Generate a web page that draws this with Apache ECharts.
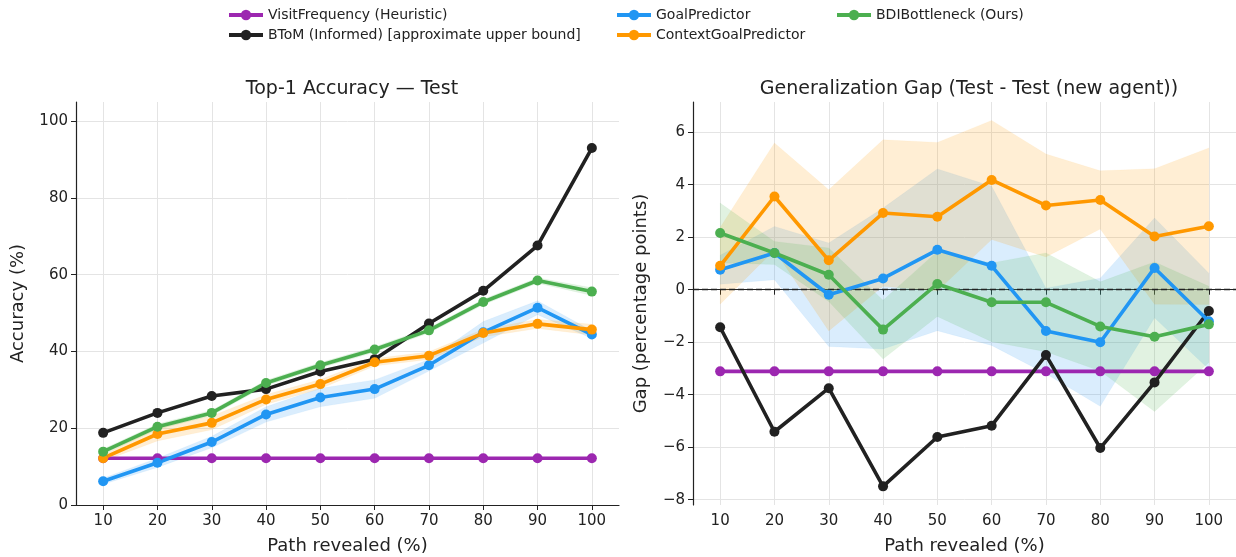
<!DOCTYPE html>
<html><head><meta charset="utf-8">
<script src="https://cdn.jsdelivr.net/npm/echarts@6/dist/echarts.min.js"></script>
<style>html,body{margin:0;padding:0;background:#fff}#c{width:1236px;height:557px}</style>
</head><body><div id="c"></div>
<script>
const xs = [10,20,30,40,50,60,70,80,90,100];
const names = ['VisitFrequency (Heuristic)','BToM (Informed) [approximate upper bound]','GoalPredictor','ContextGoalPredictor','BDIBottleneck (Ours)'];
const colors = ['#9c27b0','#212121','#2196f3','#ff9800','#4caf50'];
const yTicksAcc = [0,20,40,60,80,100];
const yTicksGap = [-8,-6,-4,-2,0,2,4,6];

// Top-1 Accuracy (Test)
const accVisit = [12.2,12.2,12.2,12.2,12.2,12.2,12.2,12.2,12.2,12.2];
const accBtom  = [18.8,24.0,28.4,30.2,34.8,38.0,47.3,55.8,67.6,93.0];
const accGoal  = [6.2,11.0,16.4,23.6,28.0,30.2,36.4,45.0,51.4,44.4];
const accGoalLo= [5.4,9.8,14.9,21.6,25.6,27.8,34.9,42.2,49.6,43.4];
const accGoalHi= [7.0,12.2,17.9,25.6,30.4,32.6,37.9,47.8,53.2,45.4];
const accCtx   = [12.2,18.5,21.4,27.5,31.5,37.2,38.9,44.8,47.2,45.7];
const accCtxLo = [11.4,16.7,19.6,26.2,30.3,36.2,37.9,43.8,46.0,44.3];
const accCtxHi = [13.0,20.3,23.2,28.8,32.7,38.2,39.9,45.8,48.4,47.1];
const accBdi   = [13.9,20.4,24.0,31.8,36.4,40.5,45.5,52.9,58.5,55.6];
const accBdiLo = [13.2,19.7,23.3,31.1,35.7,39.8,44.8,52.2,57.8,54.6];
const accBdiHi = [14.6,21.1,24.7,32.5,37.1,41.2,46.2,53.6,59.2,56.6];

// Generalization gap
const gapVisit = [-3.11,-3.11,-3.11,-3.11,-3.11,-3.11,-3.11,-3.11,-3.11,-3.11];
const gapBtom  = [-1.43,-5.41,-3.75,-7.49,-5.61,-5.18,-2.49,-6.03,-3.53,-0.81];
const gapGoal  = [0.76,1.40,-0.19,0.43,1.52,0.91,-1.57,-2.00,0.83,-1.20];
const gapGoalLo= [0.21,0.38,-2.16,-2.26,-1.56,-2.12,-3.20,-4.44,-1.07,-3.03];
const gapGoalHi= [1.31,2.41,1.78,3.11,4.60,3.94,0.06,0.44,2.73,0.63];
const gapCtx   = [0.91,3.55,1.12,2.92,2.78,4.18,3.21,3.42,2.03,2.42];
const gapCtxLo = [-0.55,1.51,-1.57,0.13,-0.05,1.91,1.25,2.31,-0.55,-0.56];
const gapCtxHi = [2.37,5.59,3.81,5.71,5.61,6.45,5.17,4.53,4.61,5.40];
const gapBdi   = [2.16,1.40,0.57,-1.52,0.22,-0.48,-0.48,-1.40,-1.79,-1.32];
const gapBdiLo = [1.02,0.96,-0.45,-2.64,-1.02,-1.98,-2.36,-3.10,-4.64,-2.77];
const gapBdiHi = [3.30,1.84,1.59,-0.40,1.46,1.02,1.40,0.30,1.06,0.13];

const FONT = 'DejaVu Sans';
const pairs = arr => xs.map((x,i)=>[x,arr[i]]);

function lineSeries(name, color, arr, gi){
  return {name, type:'line', xAxisIndex:gi, yAxisIndex:gi, data:pairs(arr),
    symbol:'circle', symbolSize:10, z:5,
    lineStyle:{color, width:3.6}, itemStyle:{color}, emphasis:{disabled:true}};
}
function band(color, lo, hi, gi){
  return {type:'custom', xAxisIndex:gi, yAxisIndex:gi, silent:true, z:1,
    data: xs.map((x,i)=>[x, lo[i], hi[i]]),
    encode:{x:0, y:[1,2]},
    renderItem: function(params, api){
      if (params.dataIndex !== 0) return null;
      const top = xs.map((x,i)=>api.coord([x, hi[i]]));
      const bot = xs.map((x,i)=>api.coord([x, lo[i]])).reverse();
      return {type:'polygon', shape:{points: top.concat(bot)},
        style:{fill:color, opacity:0.17, stroke:color, lineWidth:1, strokeOpacity:0.25}};
    }};
}
function xAxis(gi){
  return {type:'value', gridIndex:gi, min:5, max:105,
    name:'Path revealed (%)', nameLocation:'middle', nameGap:32,
    nameTextStyle:{fontFamily:FONT, fontSize:18, color:'#222'},
    axisLine:{lineStyle:{color:'#222', width:1.2}},
    axisTick:{customValues:xs, length:5, lineStyle:{color:'#222'}},
    axisLabel:{customValues:xs, fontFamily:FONT, fontSize:15, color:'#222', margin:9},
    splitLine:{show:true, lineStyle:{color:'#e4e4e4', width:1}}};
}
function yAxis(gi, min, max, ticks, name){
  return {type:'value', gridIndex:gi, min, max,
    name, nameLocation:'middle', nameGap: gi===0?49:43,
    nameTextStyle:{fontFamily:FONT, fontSize:18, color:'#222'},
    axisLine:{show:true, lineStyle:{color:'#222', width:1.2}},
    axisTick:{show:true, customValues:ticks, length:5, lineStyle:{color:'#222'}},
    axisLabel:{customValues:ticks, fontFamily:FONT, fontSize:15, color:'#222', margin:8,
      formatter: v => (v<0?'\u2212'+(-v):String(v))},
    splitLine:{show:true, lineStyle:{color:'#e4e4e4', width:1}}};
}

const series = [];
series.push(band(colors[2], accGoalLo, accGoalHi, 0));
series.push(band(colors[3], accCtxLo, accCtxHi, 0));
series.push(band(colors[4], accBdiLo, accBdiHi, 0));
series.push(lineSeries(names[0], colors[0], accVisit, 0));
series.push(lineSeries(names[1], colors[1], accBtom, 0));
series.push(lineSeries(names[2], colors[2], accGoal, 0));
series.push(lineSeries(names[3], colors[3], accCtx, 0));
series.push(lineSeries(names[4], colors[4], accBdi, 0));

series.push(band(colors[2], gapGoalLo, gapGoalHi, 1));
series.push(band(colors[3], gapCtxLo, gapCtxHi, 1));
series.push(band(colors[4], gapBdiLo, gapBdiHi, 1));
const visitGap = lineSeries(names[0], colors[0], gapVisit, 1);
visitGap.markLine = {silent:true, symbol:'none', label:{show:false},
  lineStyle:{color:'#222', type:[6,3], width:1.4}, data:[{yAxis:0}], z:3};
series.push(visitGap);
series.push(lineSeries(names[1], colors[1], gapBtom, 1));
series.push(lineSeries(names[2], colors[2], gapGoal, 1));
series.push(lineSeries(names[3], colors[3], gapCtx, 1));
series.push(lineSeries(names[4], colors[4], gapBdi, 1));

function legend(left, data){
  return {left, top:3, orient:'vertical', data, itemWidth:34, itemHeight:13, itemGap:6,
    lineStyle:{width:4}, itemStyle:{borderWidth:0},
    textStyle:{fontFamily:FONT, fontSize:14, color:'#222'}, selectedMode:false};
}

const chart = echarts.init(document.getElementById('c'), null, {renderer:'canvas'});
chart.setOption({
  animation:false,
  backgroundColor:'#fff',
  title:[
    {text:'Top-1 Accuracy \u2014 Test', left:347, top:75, textAlign:'center',
     textStyle:{fontFamily:FONT, fontSize:19, fontWeight:'normal', color:'#222'}},
    {text:'Generalization Gap (Test - Test (new agent))', left:964, top:75, textAlign:'center',
     textStyle:{fontFamily:FONT, fontSize:19, fontWeight:'normal', color:'#222'}}
  ],
  legend:[legend(222,[names[0],names[1]]), legend(610,[names[2],names[3]]), legend(830,[names[4]])],
  grid:[
    {left:76, top:102, width:543, height:403, outerBoundsMode:'none', containLabel:false},
    {left:693, top:102, width:543, height:403, outerBoundsMode:'none', containLabel:false}
  ],
  xAxis:[xAxis(0), xAxis(1)],
  yAxis:[yAxis(0,0,105,yTicksAcc,'Accuracy (%)'), yAxis(1,-8.2,7.15,yTicksGap,'Gap (percentage points)')],
  series
});
</script></body></html>
